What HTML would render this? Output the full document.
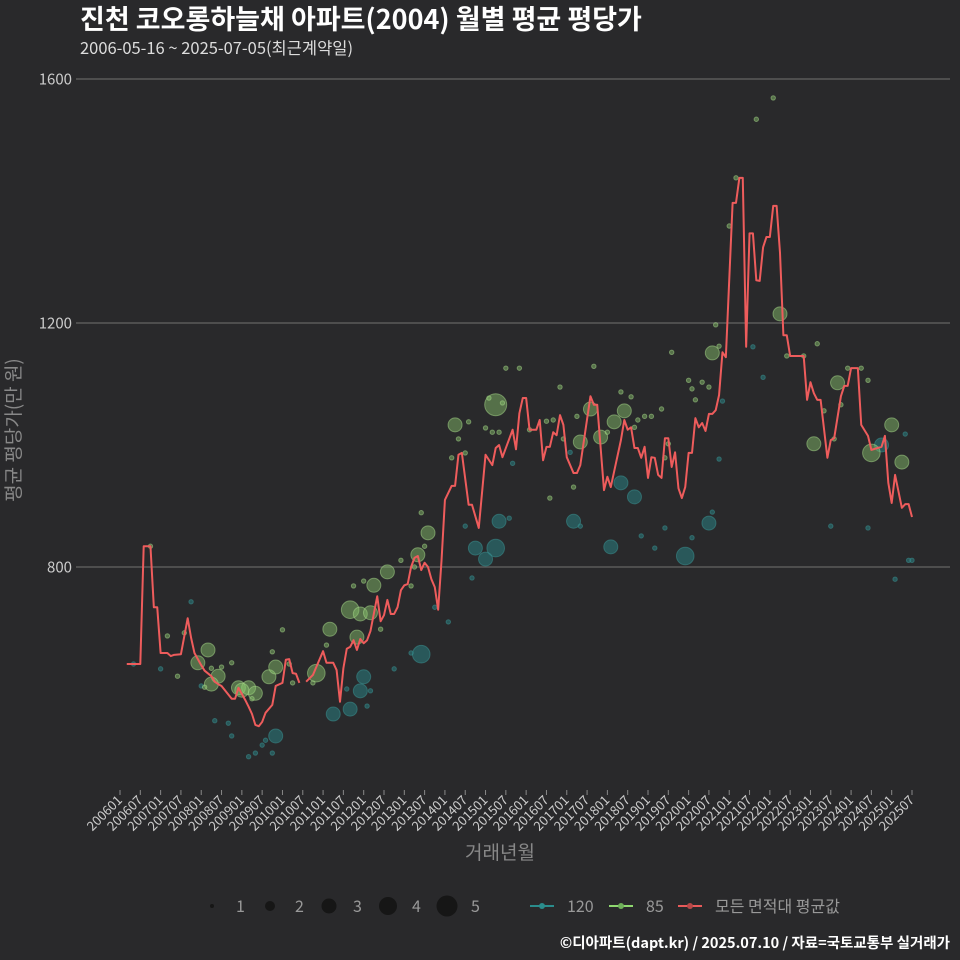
<!DOCTYPE html>
<html><head><meta charset="utf-8">
<style>
body{margin:0;background:#29292b;}
svg{display:block;font-family:"Noto Sans CJK KR","Liberation Sans",sans-serif;}
</style></head>
<body>
<svg id="chart" width="960" height="960" viewBox="0 0 960 960" xmlns="http://www.w3.org/2000/svg">
<rect width="960" height="960" fill="#29292b"/>
<text x="80" y="29" fill="#ffffff" font-size="27" font-weight="bold">진천 코오롱하늘채 아파트(2004) 월별 평균 평당가</text>
<text x="80" y="54" fill="#dddddd" font-size="16.5">2006-05-16 ~ 2025-07-05(최근계약일)</text>
<g id="grid"></g>
<g id="yticks"></g>
<g id="xticks"></g>
<g id="teal"></g>
<g id="green"></g>
<g id="line"></g>
<text transform="translate(20,430) rotate(-90)" text-anchor="middle" fill="#888888" font-size="19">평균 평당가(만 원)</text>
<text x="500" y="859" text-anchor="middle" fill="#888888" font-size="19">거래년월</text>
<g>
<circle cx="212" cy="906" r="2" fill="#161616"/>
<text x="236" y="912" fill="#999" font-size="16">1</text>
<circle cx="270" cy="906" r="5" fill="#161616"/>
<text x="295" y="912" fill="#999" font-size="16">2</text>
<circle cx="329" cy="906" r="7.5" fill="#161616"/>
<text x="353" y="912" fill="#999" font-size="16">3</text>
<circle cx="388" cy="906" r="9" fill="#161616"/>
<text x="412" y="912" fill="#999" font-size="16">4</text>
<circle cx="447" cy="906" r="10.5" fill="#161616"/>
<text x="471" y="912" fill="#999" font-size="16">5</text>
<line x1="530" y1="906" x2="554" y2="906" stroke="#2a8c8c" stroke-width="2"/>
<circle cx="542" cy="906" r="3" fill="#2a8c8c"/>
<text x="567" y="912" fill="#999" font-size="16">120</text>
<line x1="609" y1="906" x2="633" y2="906" stroke="#8fd870" stroke-width="2"/>
<circle cx="621" cy="906" r="3" fill="#6fb05a"/>
<text x="646" y="912" fill="#999" font-size="16">85</text>
<line x1="678" y1="906" x2="702" y2="906" stroke="#e85a5a" stroke-width="2"/>
<circle cx="690" cy="906" r="3" fill="#b84848"/>
<text x="715" y="912" fill="#999" font-size="16">모든 면적대 평균값</text>
</g>
<text x="950" y="948" text-anchor="end" fill="#ffffff" font-size="14.5" font-weight="bold">©디아파트(dapt.kr) / 2025.07.10 / 자료=국토교통부 실거래가</text>
</svg>
<script>
const yTicks=[800,1200,1600];
const xTickLabels=[];
for(let y=2006;y<=2025;y++){xTickLabels.push(y+"01");xTickLabels.push(y+"07");}
const lineSeg1Months=[2,6,7,9,10,11,12,14,15,16,18,20,21,22,24,25,27,28,29,30,31,33,34,35,36,37,38,39,40,41,42,43,45,46,48,49,50,51,52,53];
const lineSeg1Values=[641,641,834,834,734,734,659,659,654,656,657,716,684,659,639,630,621,612,608,605,598,584,584,602,592,582,571,559,541,539,546,561,574,605,610,648,649,626,625,610];
const lineSeg2Months=[55,57,58,60,61,63,64,65,66,67,68,69,70,71,72,73,74,76,77,78,79,80,81,82,83,84,85,86,87,88,89,90,91,92,93,94,95,96,98,99,100,101,103,104,106,108,110,111,112,113,116,117,118,119,120,121,123,124,125,126,127,128,129,130,131,132,134,135,136,139,140,141,143,144,145,148,149,150,151,152,153,154,155,156,157,158,159,160,161,162,163,164,165,166,167,168,169,170,171,172,173,174,175,176,177,178,179,181,182,183,184,185,186,187,188,189,190,191,192,193,194,195,196,197,198,202,203,204,205,206,207,209,210,211,213,214,215,216,218,219,221,222,225,226,227,228,229,231,232,233,234];
const lineSeg2Values=[612,623,636,662,643,643,631,579,634,666,669,680,664,682,675,680,695,752,711,721,746,723,723,734,762,770,772,800,815,818,795,807,800,780,767,730,811,910,933,933,984,987,902,902,864,984,967,995,1000,980,1025,993,1052,1077,1077,1025,1025,1041,975,997,997,1021,1016,1049,1033,980,954,954,967,1080,1066,1066,926,948,931,1008,1041,1025,1029,995,995,979,997,946,980,979,951,946,1011,1011,964,988,929,913,931,987,987,1044,1029,1036,1023,1051,1051,1057,1082,1152,1144,1397,1397,1438,1438,1161,1347,1347,1270,1269,1324,1341,1341,1392,1392,1315,1180,1180,1146,1146,1074,1103,1085,1074,1074,979,1008,1011,1080,1097,1097,1126,1126,1033,1015,992,997,1015,938,905,951,897,903,903,882];
const greenMonths=[9,14,19,26,23,27,30,33,17,29,27,25,35,38,40,36,39,44,46,45,48,50,51,57,58,61,62,68,71,74,70,69,72,75,79,77,83,86,87,88,90,91,89,175,163,111,109,113,99,103,100,98,102,108,110,112,114,118,130,140,139,136,142,146,149,148,151,135,126,128,121,131,134,127,144,153,155,157,160,152,162,161,168,172,174,169,170,177,193,188,182,180,176,195,197,202,206,208,212,215,219,221,213,205,211,228,222,231];
const greenValues=[834,687,692,664,643,634,636,643,621,621,608,603,602,602,593,598,584,620,636,661,697,641,610,610,626,672,698,730,723,725,685,769,777,770,792,698,811,769,800,820,834,856,889,1151,1152,1066,1077,1069,1033,1038,1010,979,987,1028,1021,1021,1126,1126,1095,1129,1059,1005,1013,1038,1056,1087,1079,1047,1039,1041,1025,1010,931,913,1021,1041,1047,1047,1059,1029,1002,979,1106,1103,1095,1092,1074,1162,1569,1534,1438,1359,1197,1215,1146,1146,1166,1056,1102,1126,1126,1106,1066,1002,1010,1033,987,972];
const greenCounts=[1,1,1,3,3,1,1,1,1,3,3,1,3,3,3,3,1,3,3,1,1,1,1,1,4,1,3,4,3,3,3,1,1,3,3,1,1,1,1,3,1,3,1,3,1,5,1,1,3,1,1,1,1,1,1,1,1,1,1,1,3,3,3,3,3,1,1,1,1,1,1,1,1,1,1,1,1,1,1,1,1,1,1,1,1,1,1,1,1,1,1,1,1,3,1,1,1,1,3,1,1,1,1,3,1,3,4,3];
const tealMonths=[4,21,12,24,28,32,33,38,40,42,43,46,45,63,68,71,72,67,74,73,81,89,86,93,97,112,115,105,111,108,102,104,116,133,134,136,145,148,152,154,158,161,167,169,174,175,177,187,190,178,210,221,225,232,233,234,229];
const tealValues=[641,743,633,605,548,544,523,489,495,508,516,523,495,559,567,597,620,600,597,572,633,657,659,734,710,875,880,831,831,813,867,782,970,988,875,867,833,938,915,851,831,864,818,848,872,890,977,1161,1111,1072,867,864,1000,1018,811,811,780];
const tealCounts=[1,1,1,1,1,1,1,1,1,1,1,3,1,3,3,3,3,1,1,1,1,4,1,1,1,3,1,3,4,3,1,1,1,1,3,1,3,3,3,1,1,1,4,1,3,1,1,1,1,1,1,1,3,1,1,1,1];

const NS="http://www.w3.org/2000/svg";
const X0=120,X1=912,MAXM=234;
const xScale=m=>X0+(X1-X0)*m/MAXM;
const yScale=v=>567-(v-800)*(244/400);
const rScale=c=>[0,2.2,4.8,7,8.8,11][c];
function mk(tag,attrs,parent){const e=document.createElementNS(NS,tag);for(const k in attrs)e.setAttribute(k,attrs[k]);parent.appendChild(e);return e;}
const grid=document.getElementById('grid'),yt=document.getElementById('yticks'),xt=document.getElementById('xticks');
yTicks.forEach(v=>{
  const l=mk('line',{x1:76,x2:950,y1:yScale(v),y2:yScale(v),stroke:'#5a5a5a','stroke-width':1.5},grid);
  
  
  const t=mk('text',{x:72,y:yScale(v)+5.5,'text-anchor':'end',fill:'#cccccc','font-size':15},yt);
  t.textContent=v;
  
  
});
xTickLabels.forEach((lab,i)=>{
  const x=xScale(i*6);
  const l=mk('line',{x1:x,x2:x,y1:790,y2:795,stroke:'#888','stroke-width':1},xt);
  
  
  const t=mk('text',{x:x+3,y:801,'text-anchor':'end',fill:'#cccccc','font-size':13,transform:`rotate(-45 ${x+3} 801)`},xt);
  t.textContent=lab;
  
  
});
function scatter(gid,ms,vs,cs,fill,stroke,name){
  const g=document.getElementById(gid);
  ms.forEach((m,i)=>{
    const c=mk('circle',{cx:xScale(m),cy:yScale(vs[i]),r:rScale(cs[i]),fill:fill,stroke:stroke,'stroke-width':1},g);
    
    
  });
}
scatter('teal',tealMonths,tealValues,tealCounts,'rgba(42,128,130,0.55)','rgba(60,150,150,0.5)','point-120');
scatter('green',greenMonths,greenValues,greenCounts,'rgba(140,200,110,0.45)','rgba(170,220,140,0.5)','point-85');
const lg=document.getElementById('line');
[[lineSeg1Months,lineSeg1Values],[lineSeg2Months,lineSeg2Values]].forEach(([ms,vs])=>{
  const p=mk('polyline',{points:ms.map((m,i)=>xScale(m)+','+yScale(vs[i])).join(' '),fill:'none',stroke:'#ee5c5c','stroke-width':2,'stroke-linejoin':'round'},lg);
  
  
});
</script>
</body></html>
